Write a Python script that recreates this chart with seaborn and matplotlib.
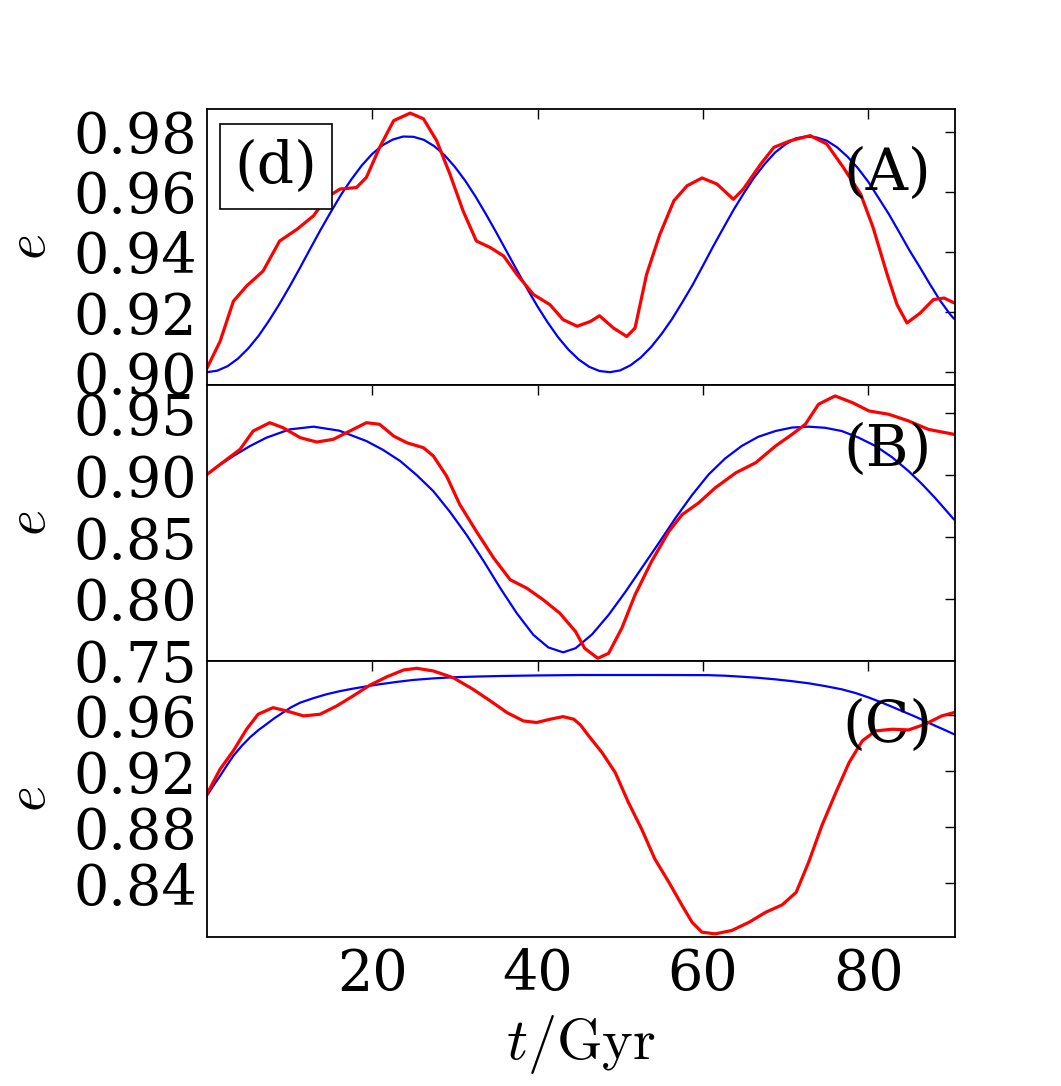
import numpy as np
import matplotlib
matplotlib.use("Agg")
import matplotlib.pyplot as plt
import seaborn as sns

# --- Data ---
# Panel A
t_blue_a = [0, 1.25, 2.5, 3.75, 5, 6.25, 7.5, 8.75, 10, 11.25, 12.5, 13.75, 15, 16.25, 17.5,
            18.75, 20, 21.25, 22.5, 23.75, 25, 26.25, 27.5, 28.75, 30, 31.25, 32.5, 33.75,
            35, 36.25, 37.5, 38.75, 40, 41.25, 42.5, 43.75, 45, 46.25, 47.5, 48.75, 50,
            51.25, 52.5, 53.75, 55, 56.25, 57.5, 58.75, 60, 61.25, 62.5, 63.75, 65, 66.25,
            67.5, 68.75, 70, 71.25, 72.5, 73.75, 75, 76.25, 77.5, 78.75, 80, 81.25, 82.5,
            83.75, 85, 86.25, 87.5, 88.75, 90, 90.4]
e_blue_a = [0.9000, 0.9005, 0.9020, 0.9045, 0.9079, 0.9121, 0.9171, 0.9226, 0.9285, 0.9347,
            0.9411, 0.9474, 0.9534, 0.9592, 0.9643, 0.9689, 0.9727, 0.9756, 0.9775, 0.9785,
            0.9784, 0.9774, 0.9753, 0.9723, 0.9684, 0.9638, 0.9585, 0.9527, 0.9466, 0.9403,
            0.9340, 0.9278, 0.9219, 0.9165, 0.9116, 0.9075, 0.9042, 0.9018, 0.9004, 0.9000,
            0.9006, 0.9023, 0.9049, 0.9084, 0.9127, 0.9176, 0.9232, 0.9290, 0.9354, 0.9419,
            0.9481, 0.9542, 0.9598, 0.9650, 0.9694, 0.9732, 0.9759, 0.9779, 0.9785, 0.9782,
            0.9771, 0.9749, 0.9718, 0.9680, 0.9635, 0.9581, 0.9527, 0.9467, 0.9406, 0.9350,
            0.9292, 0.9237, 0.9190, 0.9178]
t_red_a = [0, 1.6, 3.2, 4.8, 6.8, 8.8, 10.9, 12.9, 14.5, 16.1, 18.1, 19.3, 20.9, 22.6, 24.6,
           26.2, 27.8, 29.4, 31.0, 32.6, 34.3, 35.9, 37.5, 39.5, 41.5, 43.1, 44.8, 46.4,
           47.5, 49.2, 50.8, 51.8, 53.2, 54.8, 56.5, 58.1, 59.9, 61.7, 63.7, 64.9, 67.0,
           68.6, 70.6, 73.0, 75.0, 77.0, 79.1, 80.6, 82.3, 83.5, 84.7, 86.3, 87.9, 89.2, 90.4]
e_red_a = [0.9013, 0.9103, 0.9236, 0.9287, 0.9337, 0.9437, 0.9476, 0.9521, 0.9582, 0.9610,
           0.9615, 0.9649, 0.9749, 0.9838, 0.9863, 0.9844, 0.9771, 0.9660, 0.9537, 0.9437,
           0.9415, 0.9387, 0.9326, 0.9259, 0.9225, 0.9175, 0.9153, 0.9169, 0.9188, 0.9147,
           0.9119, 0.9147, 0.9326, 0.9459, 0.9571, 0.9621, 0.9647, 0.9627, 0.9576, 0.9610,
           0.9693, 0.9749, 0.9771, 0.9788, 0.9760, 0.9682, 0.9593, 0.9482, 0.9326, 0.9225,
           0.9164, 0.9197, 0.9242, 0.9247, 0.9231]

# Panel B
t_blue_b = [0, 1.6, 3.2, 5.2, 7.2, 10.0, 12.9, 16.0, 19.3, 21.3, 23.4, 25.4, 27.4, 29.4,
            31.4, 33.5, 35.5, 37.5, 39.5, 41.3, 43.1, 44.6, 46.6, 48.6, 50.6, 52.6, 54.7,
            56.7, 58.7, 60.7, 62.7, 64.7, 66.7, 68.8, 70.8, 72.8, 74.8, 76.8, 78.8, 80.9,
            82.9, 84.9, 86.5, 88.1, 90.4]
e_blue_b = [0.9006, 0.9085, 0.9155, 0.9235, 0.9303, 0.9370, 0.9392, 0.9360, 0.9276, 0.9205,
            0.9114, 0.9000, 0.8871, 0.8705, 0.8520, 0.8305, 0.8088, 0.7885, 0.7711, 0.7610,
            0.7570, 0.7603, 0.7715, 0.7872, 0.8055, 0.8250, 0.8455, 0.8655, 0.8840, 0.9006,
            0.9135, 0.9236, 0.9310, 0.9357, 0.9385, 0.9392, 0.9383, 0.9357, 0.9305, 0.9236,
            0.9145, 0.9033, 0.8930, 0.8817, 0.8642]
t_red_b = [0, 2.4, 4.0, 5.6, 7.6, 9.2, 11.3, 13.3, 15.3, 17.3, 19.3, 20.9, 22.6, 24.2, 26.2,
           27.4, 29.0, 30.6, 32.6, 34.7, 36.7, 38.7, 40.7, 42.7, 44.6, 45.7, 47.3, 48.6,
           50.2, 51.8, 53.8, 55.9, 57.5, 59.5, 61.5, 64.0, 66.4, 68.8, 70.8, 72.4, 74.0,
           76.0, 78.1, 80.1, 82.5, 84.9, 87.3, 90.4]
e_red_b = [0.9006, 0.9128, 0.9208, 0.9357, 0.9424, 0.9384, 0.9303, 0.9268, 0.9290, 0.9357,
           0.9424, 0.9411, 0.9316, 0.9262, 0.9222, 0.9155, 0.8993, 0.8763, 0.8547, 0.8331,
           0.8156, 0.8088, 0.7994, 0.7886, 0.7738, 0.7603, 0.7522, 0.7562, 0.7765, 0.8034,
           0.8304, 0.8547, 0.8682, 0.8777, 0.8898, 0.9020, 0.9101, 0.9236, 0.9330, 0.9411,
           0.9573, 0.9640, 0.9586, 0.9519, 0.9492, 0.9438, 0.9370, 0.9330]

# Panel C
t_blue_c = [0, 0.8, 1.6, 2.4, 3.2, 4.2, 5.2, 6.2, 7.2, 8.2, 9.2, 10.2, 11.3, 12.9, 14.5,
            16.1, 17.7, 19.3, 20.9, 23.0, 25.0, 27.4, 29.8, 32.6, 35.5, 40.0, 45.2, 55.0,
            60.7, 62.7, 64.7, 66.7, 68.8, 70.8, 72.8, 74.8, 76.8, 78.5, 80.1, 81.5, 82.9,
            84.3, 85.7, 86.9, 88.1, 89.3, 90.4]
e_blue_c = [0.9025, 0.9098, 0.9167, 0.9240, 0.9310, 0.9380, 0.9441, 0.9492, 0.9536, 0.9580,
            0.9619, 0.9657, 0.9690, 0.9722, 0.9750, 0.9772, 0.9790, 0.9806, 0.9821, 0.9838,
            0.9852, 0.9863, 0.9871, 0.9876, 0.9880, 0.9884, 0.9887, 0.9887, 0.9886, 0.9882,
            0.9875, 0.9867, 0.9856, 0.9843, 0.9828, 0.9808, 0.9785, 0.9758, 0.9726, 0.9694,
            0.9660, 0.9625, 0.9590, 0.9558, 0.9525, 0.9494, 0.9464]
t_red_c = [0, 1.6, 3.2, 4.8, 6.2, 8.0, 9.6, 11.7, 13.7, 15.7, 17.7, 19.7, 21.8, 23.8, 25.4,
           27.4, 29.8, 32.2, 34.3, 36.3, 38.3, 39.9, 41.5, 43.1, 44.4, 45.2, 46.2, 47.8,
           49.4, 51.0, 52.6, 54.2, 55.9, 57.5, 58.7, 59.9, 61.5, 63.5, 65.6, 67.6, 69.6,
           71.3, 72.8, 74.4, 76.1, 77.7, 79.3, 80.9, 82.9, 84.9, 86.9, 88.9, 90.4]
e_red_c = [0.9037, 0.9215, 0.9346, 0.9500, 0.9607, 0.9654, 0.9631, 0.9595, 0.9607, 0.9666,
           0.9738, 0.9814, 0.9875, 0.9923, 0.9935, 0.9916, 0.9868, 0.9785, 0.9702, 0.9619,
           0.9559, 0.9548, 0.9571, 0.9590, 0.9571, 0.9530, 0.9452, 0.9334, 0.9191, 0.8977,
           0.8787, 0.8573, 0.8407, 0.8241, 0.8122, 0.8051, 0.8039, 0.8063, 0.8122, 0.8193,
           0.8246, 0.8336, 0.8550, 0.8811, 0.9049, 0.9262, 0.9417, 0.9488, 0.9500, 0.9495,
           0.9536, 0.9595, 0.9619]

panel_labels = ["(A)", "(B)", "(C)"]
x_ticks = [20, 40, 60, 80]
y_ticks = [[0.90, 0.92, 0.94, 0.96, 0.98],
           [0.75, 0.80, 0.85, 0.90, 0.95],
           [0.84, 0.88, 0.92, 0.96]]
y_limits = [(0.8958, 0.9878), (0.75, 0.973), (0.8015, 0.9987)]
x_limits = (0, 90.5)

# --- Style ---
TICK_FONT_SIZE = 40
LABEL_FONT_SIZE = 40
XLABEL_FONT_SIZE = 42
PANEL_FONT_SIZE = 42

sns.set_style("white")
plt.rcParams['font.family'] = ['DejaVu Serif']
plt.rcParams['mathtext.fontset'] = 'cm'
plt.rcParams['text.color'] = 'black'
plt.rcParams['axes.labelcolor'] = 'black'
plt.rcParams['xtick.color'] = 'black'
plt.rcParams['ytick.color'] = 'black'
plt.rcParams['axes.edgecolor'] = 'black'
plt.rcParams['axes.linewidth'] = 1.3
plt.rcParams['xtick.direction'] = 'in'
plt.rcParams['ytick.direction'] = 'in'
plt.rcParams['lines.solid_joinstyle'] = 'round'

fig, axes = plt.subplots(3, 1, figsize=(10.61, 10.86), dpi=100, sharex=True)
fig.subplots_adjust(left=0.195, right=0.9, top=0.9, bottom=0.137, hspace=0)

series = [(t_blue_a, e_blue_a, t_red_a, e_red_a),
          (t_blue_b, e_blue_b, t_red_b, e_red_b),
          (t_blue_c, e_blue_c, t_red_c, e_red_c)]

for i, ax in enumerate(axes):
    tb, eb, tr, er = series[i]
    sns.lineplot(x=tb, y=eb, ax=ax, color='blue', lw=1.6, sort=False, estimator=None)
    sns.lineplot(x=tr, y=er, ax=ax, color='red', lw=2.3, sort=False, estimator=None)

    ax.set_xlim(*x_limits)
    ax.set_ylim(*y_limits[i])
    ax.set_yticks(y_ticks[i])
    ax.set_yticklabels([f"{v:.2f}" for v in y_ticks[i]])
    ax.set_xticks(x_ticks)
    ax.tick_params(axis='both', which='major', labelsize=TICK_FONT_SIZE, length=7,
                   width=1, top=True, right=True, pad=7)
    ax.set_ylabel(r"$e$", fontsize=LABEL_FONT_SIZE, labelpad=12)

    ax.text(0.91, 0.765, panel_labels[i], transform=ax.transAxes, ha='center',
            va='center', fontsize=PANEL_FONT_SIZE)

axes[0].text(0.092, 0.79, "(d)", transform=axes[0].transAxes, ha='center', va='center',
             fontsize=PANEL_FONT_SIZE,
             bbox=dict(boxstyle='square,pad=0.25', fc='white', ec='black', lw=1.2))

axes[2].set_xlabel(r"$t/\mathrm{Gyr}$", fontsize=XLABEL_FONT_SIZE, labelpad=8)

fig.savefig("out.png", dpi=100)
